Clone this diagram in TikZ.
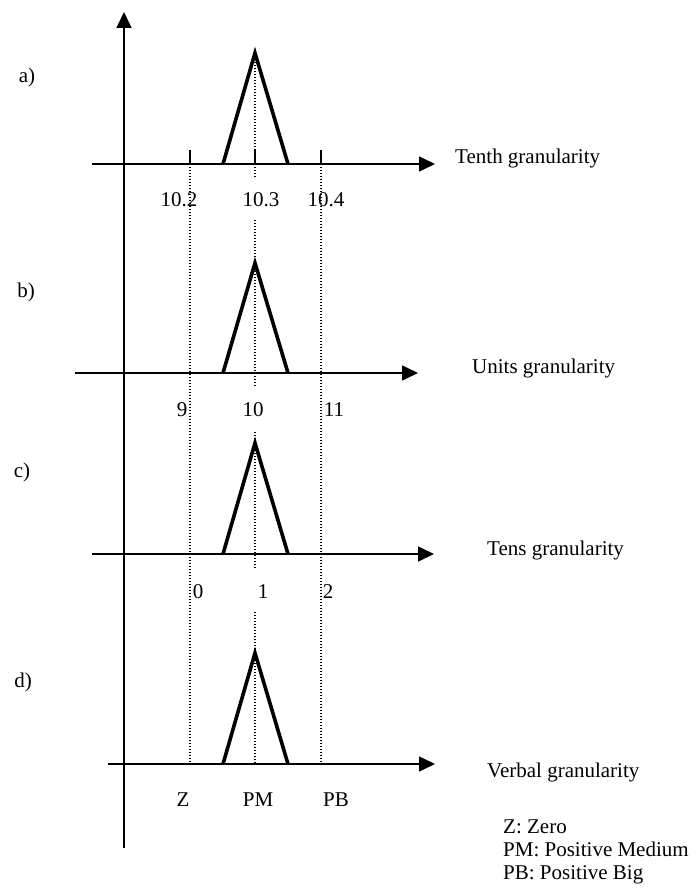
\documentclass[tikz,border=0pt]{standalone}
\usepackage{fontspec}
\setmainfont{Liberation Serif}
\usetikzlibrary{arrows.meta}
\tikzset{
  axisline/.style={line width=1.6pt,-{Triangle[length=16pt,width=15pt]}},
  memb/.style={line width=3.6pt},
  guide/.style={line width=1.2pt,dash pattern=on 1.2pt off 1.8pt},
  tickmark/.style={line width=1.6pt},
  lbl/.style={font=\fontsize{21}{23}\selectfont,inner sep=0pt}
}

\begin{document}
\begin{tikzpicture}[x=1pt,y=-1pt]
\useasboundingbox (0,0) rectangle (696,888);
% Vertical axis
\draw[axisline] (124,848) -- (124,12);
% Guide lines through all panels
\draw[guide] (190,164) -- (190,764);
\draw[guide] (321,164) -- (321,764);
% a) Tenth granularity
\node[lbl] (pa) at (27,77) {a)};
\draw[axisline] (92,164) -- (435,164);
\draw[tickmark] (190,150) -- (190,164);
\draw[tickmark] (255,150) -- (255,164);
\draw[tickmark] (321,150) -- (321,164);
\draw[memb] (223,164) -- (255,53) -- (288,164);
\draw[guide] (255,53) -- (255,177);
\node[lbl] (a1) at (179,200) {10.2};
\node[lbl] (a2) at (261,200) {10.3};
\node[lbl] (a3) at (326,200) {10.4};
\node[lbl,anchor=west] (ga) at (455,158) {Tenth granularity};
% b) Units granularity
\node[lbl] (pb) at (26,292) {b)};
\draw[axisline] (75,373) -- (418,373);
\draw[memb] (223,373) -- (255,263) -- (288,373);
\draw[guide] (255,220) -- (255,387);
\node[lbl] (b1) at (182,410) {9};
\node[lbl] (b2) at (253,410) {10};
\node[lbl] (b3) at (334,410) {11};
\node[lbl,anchor=west] (gb) at (472,368) {Units granularity};
% c) Tens granularity
\node[lbl] (pc) at (22,472) {c)};
\draw[axisline] (92,554) -- (434,554);
\draw[memb] (223,554) -- (255,443) -- (288,554);
\draw[guide] (255,432) -- (255,568);
\node[lbl] (c1) at (198,592) {0};
\node[lbl] (c2) at (263,592) {1};
\node[lbl] (c3) at (328,592) {2};
\node[lbl,anchor=west] (gc) at (487,550) {Tens granularity};
% d) Verbal granularity
\node[lbl] (pd) at (23,682) {d)};
\draw[axisline] (108,764) -- (435,764);
\draw[memb] (223,764) -- (255,653) -- (288,764);
\draw[guide] (255,612) -- (255,764);
\node[lbl] (d1) at (183,800) {Z};
\node[lbl] (d2) at (258,800) {PM};
\node[lbl] (d3) at (336,800) {PB};
\node[lbl,anchor=west] (gd) at (487,772) {Verbal granularity};
% Legend
\node[lbl,anchor=west,align=left] (legend) at (503,852) {Z: Zero\\PM: Positive Medium\\PB: Positive Big};
\end{tikzpicture}
\end{document}
